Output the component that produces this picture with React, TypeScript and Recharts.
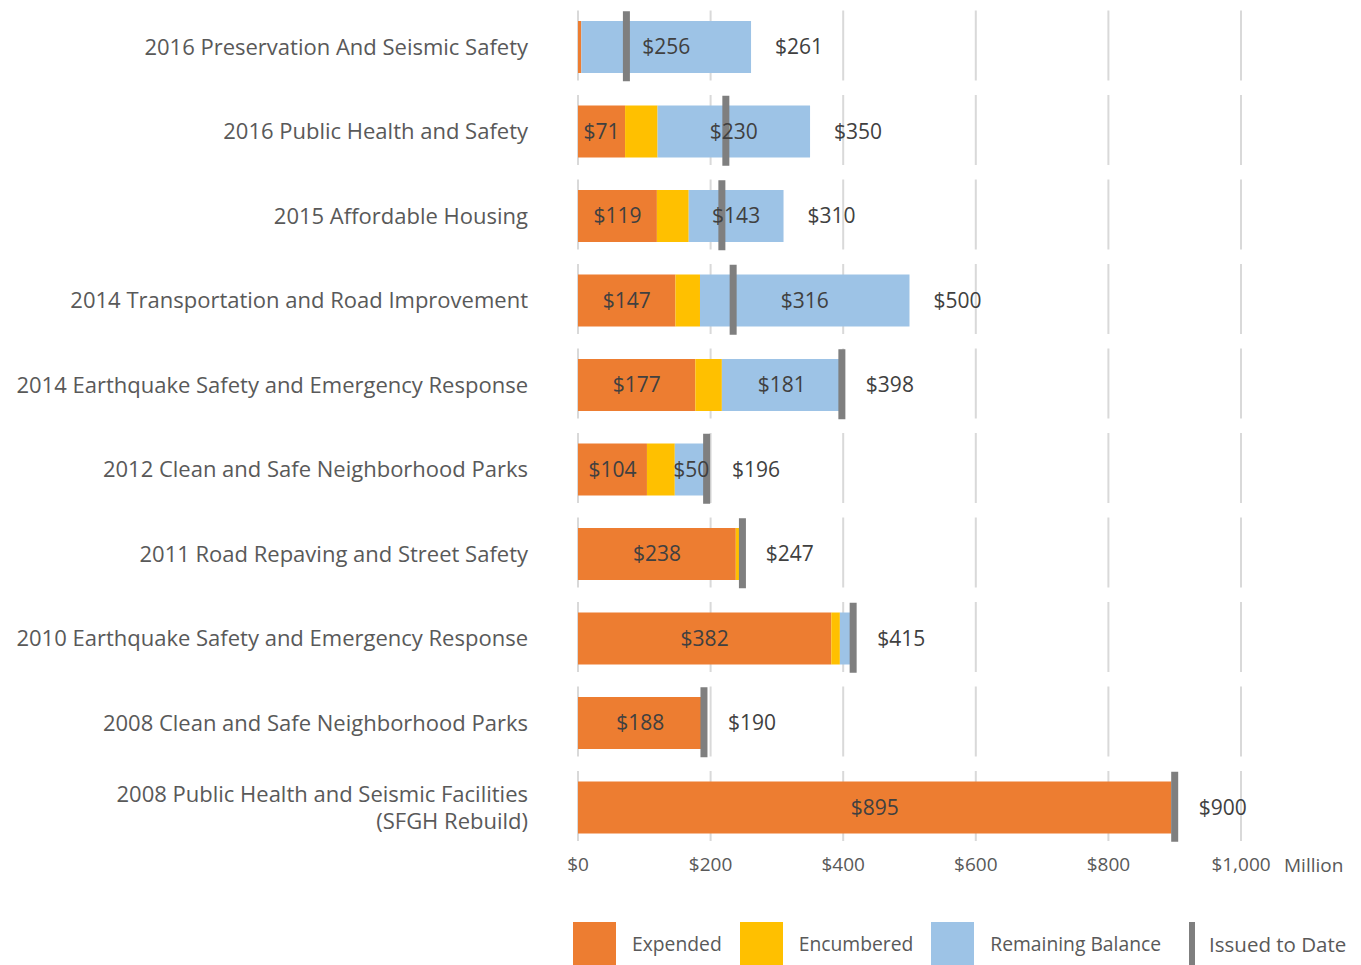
import { Bar, CartesianGrid, ComposedChart, LabelList, Scatter, XAxis, YAxis } from "recharts";

// bond programs, $ millions
const programs = [
  "2016 Preservation And Seismic Safety",
  "2016 Public Health and Safety",
  "2015 Affordable Housing",
  "2014 Transportation and Road Improvement",
  "2014 Earthquake Safety and Emergency Response",
  "2012 Clean and Safe Neighborhood Parks",
  "2011 Road Repaving and Street Safety",
  "2010 Earthquake Safety and Emergency Response",
  "2008 Clean and Safe Neighborhood Parks",
  "2008 Public Health and Seismic Facilities\n(SFGH Rebuild)",
];
const expended = [5, 71, 119, 147, 177, 104, 238, 382, 188, 895];
const encumbered = [0, 49, 48, 37, 40, 42, 7, 13, 1, 0];
const remaining = [256, 230, 143, 316, 181, 50, 2, 20, 1, 5];
const totals = [261, 350, 310, 500, 398, 196, 247, 415, 190, 900];
const issued = [73, 223, 217, 234, 398, 194, 248, 415, 190, 900];
const xTicks = [0, 200, 400, 600, 800, 1000];

const data = programs.map((name, i) => ({
  name,
  expended: expended[i],
  encumbered: encumbered[i],
  remaining: remaining[i],
  total: totals[i],
  issued: issued[i],
}));

const FONT = "'Open Sans', sans-serif";
const TEXT = "#404040";
const MUTED = "#595959";
const ORANGE = "#ED7D31";
const YELLOW = "#FFC000";
const BLUE = "#9DC3E6";
const GRAY = "#7F7F7F";

const money = (v: number) => "$" + v.toLocaleString("en-US");

function ProgramTick(props: any) {
  const { x, y, payload } = props;
  const lines = String(payload.value).split("\n");
  const first = -((lines.length - 1) / 2) * 1.22 + 0.35;
  return (
    <text x={x} y={y} textAnchor="end" fill={MUTED} fontSize={22} fontFamily={FONT}>
      {lines.map((l, i) => (
        <tspan key={i} x={x} dy={i === 0 ? `${first}em` : "1.22em"}>
          {l}
        </tspan>
      ))}
    </text>
  );
}

function IssuedMarker(props: any) {
  const { cx, cy } = props;
  if (cx == null || cy == null) return null;
  return <rect x={cx - 3.5} y={cy - 36} width={7} height={70} fill={GRAY} />;
}

const legendItems = [
  { name: "Expended", color: ORANGE },
  { name: "Encumbered", color: YELLOW },
  { name: "Remaining Balance", color: BLUE },
];

export default function App() {
  return (
    <div style={{ position: "absolute", left: 0, top: 0, width: 1361, height: 965, overflow: "hidden", fontFamily: FONT }}>
      <ComposedChart
        width={1361}
        height={965}
        data={data}
        layout="vertical"
        margin={{ top: 5, right: 120, left: 0, bottom: 85 }}
      >
        <CartesianGrid
          horizontal={false}
          stroke="#D9D9D9"
          strokeWidth={2}
          strokeDasharray="0 5.5 70 9"
        />
        <XAxis
          type="number"
          domain={[0, 1000]}
          ticks={xTicks}
          tickFormatter={money}
          axisLine={false}
          tickLine={false}
          height={30}
          tick={{ fill: MUTED, fontSize: 19, fontFamily: FONT }}
          label={{ value: "Million", position: "right", offset: 43, fill: MUTED, fontSize: 19, fontFamily: FONT }}
        />
        <YAxis
          type="category"
          dataKey="name"
          width={578}
          axisLine={false}
          tickLine={false}
          tickMargin={44}
          interval={0}
          tick={<ProgramTick />}
        />
        <Bar dataKey="expended" name="Expended" stackId="a" fill={ORANGE} barSize={52} isAnimationActive={false}>
          <LabelList
            dataKey="expended"
            position="center"
            formatter={(v: any) => (v >= 60 ? money(v) : "")}
            fill={TEXT}
            fontSize={21}
            fontFamily={FONT}
          />
        </Bar>
        <Bar dataKey="encumbered" name="Encumbered" stackId="a" fill={YELLOW} barSize={52} isAnimationActive={false} />
        <Bar dataKey="remaining" name="Remaining Balance" stackId="a" fill={BLUE} barSize={52} isAnimationActive={false}>
          <LabelList
            dataKey="remaining"
            position="center"
            formatter={(v: any) => (v >= 40 ? money(v) : "")}
            fill={TEXT}
            fontSize={21}
            fontFamily={FONT}
          />
          <LabelList
            dataKey="total"
            position="right"
            offset={24}
            formatter={(v: any) => money(v)}
            fill={TEXT}
            fontSize={21}
            fontFamily={FONT}
          />
        </Bar>
        <Scatter dataKey="issued" name="Issued to Date" shape={<IssuedMarker />} isAnimationActive={false} />
      </ComposedChart>

      <div style={{ position: "absolute", left: 573, top: 922, display: "flex", alignItems: "flex-start" }}>
        {legendItems.map((item) => (
          <div key={item.name} style={{ display: "flex", alignItems: "center", marginRight: 18 }}>
            <div style={{ width: 43, height: 43, background: item.color }} />
            <span style={{ marginLeft: 16, fontSize: 19.3, color: MUTED }}>{item.name}</span>
          </div>
        ))}
        <div style={{ display: "flex", alignItems: "center", marginLeft: 10 }}>
          <div style={{ width: 6, height: 43, background: GRAY }} />
          <span style={{ marginLeft: 14, fontSize: 20.5, color: MUTED }}>Issued to Date</span>
        </div>
      </div>
    </div>
  );
}
